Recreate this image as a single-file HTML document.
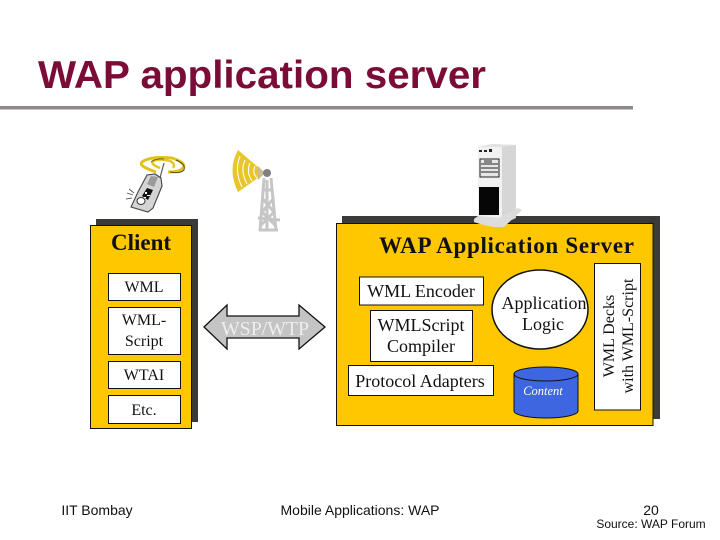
<!DOCTYPE html>
<html><head><meta charset="utf-8"><style>
html,body{margin:0;padding:0;background:#fff}
svg{display:block}
text{font-family:"Liberation Serif",serif;fill:#111}
</style></head><body>
<svg width="720" height="540" viewBox="0 0 720 540" xmlns="http://www.w3.org/2000/svg">
<rect width="720" height="540" fill="#fff"/>
<text x="38" y="88" font-size="38.5" font-weight="700" style="fill:#7b0c38;font-family:'Liberation Sans',sans-serif" textLength="448" lengthAdjust="spacingAndGlyphs">WAP application server</text>
<rect x="0" y="106" width="633" height="3.5" fill="#8e8a8a"/>

<!-- phone -->
<g fill="none" stroke="#e8c420" stroke-width="3">
<path d="M156 172 Q138 166 142 162 Q150 156 172 158 Q187 163 183 168 Q180 172 168 172" stroke="#e3c21e"/>
<path d="M160 168 Q150 164 153 161 Q160 158 170 161 Q176 164 173 168" stroke-width="2.4"/>
</g>
<path d="M176 160 Q186 164 184 170 Q180 174 170 172" stroke="#55501c" stroke-width="1" fill="none"/>
<path d="M151 162 Q156 158 164 159" stroke="#55501c" stroke-width="0.8" fill="none"/>
<path d="M160 178 L164 163" stroke="#666" stroke-width="1.3"/>
<path d="M138 192 L147 175 L155 174 L161 178 L162 186 L153 208 L148 212 L131 207 Z" fill="#d4d4d4" stroke="#444" stroke-width="1.1"/>
<path d="M147 184 L151 176 L158 177 L154 187 Z" fill="#9a9a9a"/>
<path d="M142 196 L147 188 L153 190 L148 200 Z" fill="#111"/>
<path d="M145 192h2v2h-2zM147 195h3v1h-3zM144 197h2v1h-2z" fill="#fff"/>
<ellipse cx="141" cy="201" rx="4" ry="3.5" fill="#fff" stroke="#333"/>
<path d="M127 193l6 2M126 199l6 -1M129 189l5 4" stroke="#555" stroke-width="0.9"/>

<!-- tower -->
<path d="M265 173 L238 150 Q227 170 238 192 Z" fill="#e8c52a"/>
<g fill="none" stroke="#fff" stroke-width="1.1">
<path d="M240 156 Q234 171 242 187"/>
<path d="M245 160 Q240 171 247 184"/>
<path d="M250 163 Q246 172 252 181"/>
<path d="M255 166 Q252 173 257 178"/>
</g>
<path d="M265 173 L258 166 L258 180 Z" fill="#c9bf8c"/>
<circle cx="267" cy="173" r="4" fill="#808080"/>
<g stroke="#c6c6c6" stroke-width="3" fill="none">
<path d="M264 178 L260 231"/>
<path d="M271 178 L276 231"/>
<path d="M262 198 L274 212 L260 226"/>
<path d="M274 198 L262 212 L276 226"/>
<path d="M262 190 L272 190M259 230 L278 230M258 218 L280 220"/>
<path d="M267 180 L267 230"/>
</g>

<!-- client box -->
<rect x="96" y="219" width="102" height="203" fill="#3a3a38"/>
<rect x="90.5" y="225.5" width="101" height="203" fill="#ffc700" stroke="#111" stroke-width="1"/>
<text x="141" y="250" font-size="23" font-weight="700" text-anchor="middle">Client</text>
<g fill="#fff" stroke="#111" stroke-width="1">
<rect x="108.5" y="273.5" width="72" height="27"/>
<rect x="108.5" y="307.5" width="72" height="47"/>
<rect x="108.5" y="361.5" width="72" height="27"/>
<rect x="108.5" y="395.5" width="72" height="28"/>
</g>
<g font-size="16" text-anchor="middle">
<text x="144" y="292">WML</text>
<text x="144" y="325">WML-</text>
<text x="144" y="346">Script</text>
<text x="144" y="380">WTAI</text>
<text x="144" y="415">Etc.</text>
</g>

<!-- arrow -->
<path d="M204 327 L227 305 L227 316 L299 316 L299 305 L325 327 L299 349 L299 338 L227 338 L227 349 Z" fill="#c4c4c4" stroke="#111" stroke-width="1.3"/>
<text x="265" y="335" font-size="20" text-anchor="middle" style="fill:#eee" textLength="88" lengthAdjust="spacingAndGlyphs">WSP/WTP</text>

<!-- server box -->
<rect x="342" y="216" width="318" height="203" fill="#3a3a38"/>
<rect x="336.5" y="223.5" width="316.5" height="202" fill="#ffc700" stroke="#111" stroke-width="1"/>
<text x="379" y="253" font-size="23" font-weight="700" textLength="255" lengthAdjust="spacing">WAP Application Server</text>
<g fill="#fff" stroke="#111" stroke-width="1">
<rect x="359.5" y="277" width="124" height="28"/>
<rect x="370.5" y="310.5" width="102" height="51"/>
<rect x="348.5" y="365.5" width="145" height="30"/>
<rect x="594.5" y="263.5" width="46" height="146.5"/>
<ellipse cx="540" cy="309.5" rx="48" ry="39.5" stroke-width="1.5"/>
</g>
<g font-size="18" text-anchor="middle">
<text x="421" y="297">WML Encoder</text>
<text x="421" y="331">WMLScript</text>
<text x="421" y="352">Compiler</text>
<text x="420" y="387">Protocol Adapters</text>
<text x="544" y="309">Application</text>
<text x="543" y="330">Logic</text>
</g>
<path d="M514 374 V411 A32 7 0 0 0 578 411 V374 Z" fill="#3d66e0" stroke="#111" stroke-width="1"/>
<ellipse cx="546" cy="374" rx="32" ry="7" fill="#3d66e0" stroke="#111" stroke-width="1"/>
<text x="543" y="395" font-size="12.5" font-style="italic" text-anchor="middle" style="fill:#fff">Content</text>
<g font-size="16" text-anchor="middle">
<text transform="translate(614,336) rotate(-90)">WML Decks</text>
<text transform="translate(633,336) rotate(-90)">with WML-Script</text>
</g>

<!-- server (over the box shadow) -->
<path d="M478 147 L492 144 L516 145 L516 218 L501 225 Z" fill="#d6d6d6"/>
<path d="M478 147 L502 147 L502 220 L478 218 Z" fill="#f1f1f1"/>
<path d="M478 147 L492 144 L516 145 L502 147Z" fill="#e3e3e3"/>
<path d="M479 150h3v2h-3zM484 150h3v2h-3zM489 149h3v3h-3z" fill="#222"/>
<rect x="480" y="159" width="19" height="18" fill="#e6e6e6" stroke="#222" stroke-width="1"/>
<path d="M481 164h17M481 168h17M481 172h17" stroke="#222" stroke-width="1"/>
<rect x="484" y="160" width="8" height="3" fill="#888"/>
<rect x="479" y="187" width="20" height="28" fill="#060606"/>
<path d="M474 219 L478 216 L499 218 L518 208 L522 210 L504 227 Q490 228 474 222 Z" fill="#dcdcdc"/>

<!-- footer -->
<g font-size="14" text-anchor="middle">
<text x="97" y="515" style="font-family:'Liberation Sans',sans-serif">IIT Bombay</text>
<text x="360" y="515" style="font-family:'Liberation Sans',sans-serif">Mobile Applications: WAP</text>
<text x="651" y="515" style="font-family:'Liberation Sans',sans-serif">20</text>
<text x="651" y="528" font-size="12" style="font-family:'Liberation Sans',sans-serif">Source: WAP Forum</text>
</g>
</svg>
</body></html>
